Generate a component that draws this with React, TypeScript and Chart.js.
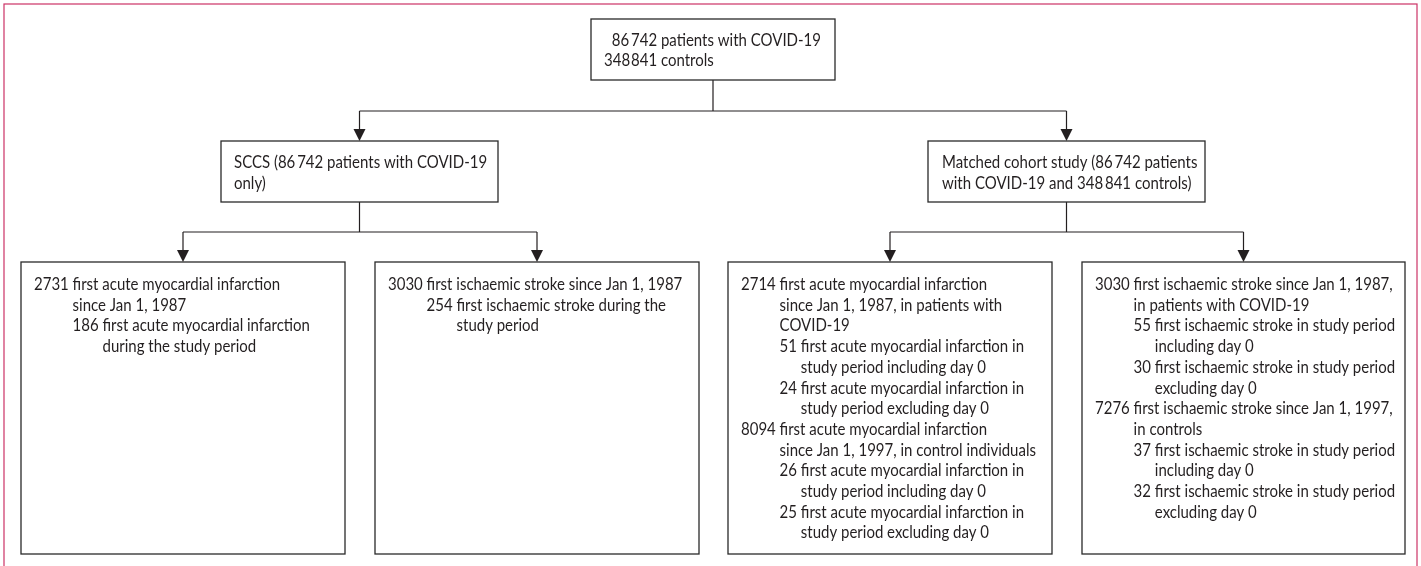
import React, { useEffect, useRef } from "react";
import { Chart, registerables } from "chart.js";

Chart.register(...registerables);

// ---------- content (text of the flow chart) ----------
const TOP_NUMBERS = ["86\u2009742", "348\u200a841"];
const TOP_TEXTS = ["patients with COVID-19", "controls"];
const SCCS_LINES = ["SCCS (86\u2009742 patients with COVID-19", "only)"];
const MATCHED_LINES = ["Matched cohort study (86\u2009742 patients", "with COVID-19 and 348\u2009841 controls)"];

type Entry = { level: number; num: string; lines: string[] };

const SCCS_MI: Entry[] = [
  { level: 0, num: "2731", lines: ["first acute myocardial infarction", "since Jan 1, 1987"] },
  { level: 1, num: "186", lines: ["first acute myocardial infarction", "during the study period"] },
];
const SCCS_STROKE: Entry[] = [
  { level: 0, num: "3030", lines: ["first ischaemic stroke since Jan 1, 1987"] },
  { level: 1, num: "254", lines: ["first ischaemic stroke during the", "study period"] },
];
const COHORT_MI: Entry[] = [
  { level: 0, num: "2714", lines: ["first acute myocardial infarction", "since Jan 1, 1987, in patients with", "COVID-19"] },
  { level: 1, num: "51", lines: ["first acute myocardial infarction in", "study period including day 0"] },
  { level: 1, num: "24", lines: ["first acute myocardial infarction in", "study period excluding day 0"] },
  { level: 0, num: "8094", lines: ["first acute myocardial infarction", "since Jan 1, 1997, in control individuals"] },
  { level: 1, num: "26", lines: ["first acute myocardial infarction in", "study period including day 0"] },
  { level: 1, num: "25", lines: ["first acute myocardial infarction in", "study period excluding day 0"] },
];
const COHORT_STROKE: Entry[] = [
  { level: 0, num: "3030", lines: ["first ischaemic stroke since Jan 1, 1987,", "in patients with COVID-19"] },
  { level: 1, num: "55", lines: ["first ischaemic stroke in study period", "including day 0"] },
  { level: 1, num: "30", lines: ["first ischaemic stroke in study period", "excluding day 0"] },
  { level: 0, num: "7276", lines: ["first ischaemic stroke since Jan 1, 1997,", "in controls"] },
  { level: 1, num: "37", lines: ["first ischaemic stroke in study period", "including day 0"] },
  { level: 1, num: "32", lines: ["first ischaemic stroke in study period", "excluding day 0"] },
];

// ---------- layout (positions / sizes, in scale units) ----------
const W = 1421;
const H = 566;
const BOXES: Record<string, { x: number; y: number; w: number; h: number }> = {
  top: { x: 591, y: 19, w: 244, h: 61 },
  sccs: { x: 221, y: 141, w: 277, h: 61 },
  matched: { x: 928, y: 141, w: 277, h: 61 },
  a: { x: 21, y: 262, w: 324, h: 292 },
  b: { x: 375, y: 262, w: 324, h: 292 },
  c: { x: 728, y: 262, w: 324, h: 292 },
  d: { x: 1082, y: 262, w: 323, h: 292 },
};
const TREE = [
  { parent: "top", children: ["sccs", "matched"], midY: 111 },
  { parent: "sccs", children: ["a", "b"], midY: 232 },
  { parent: "matched", children: ["c", "d"], midY: 232 },
];
const FONT_SIZE = 17;
const FONT_FAMILY = 'Lato, "Liberation Sans", Arial, sans-serif';
const CALIB_TEXT = "2731 first acute myocardial infarction";
const CALIB_WIDTH = 246;
const LINE_H = 20.7;
const INK = "#231f20";
const FRAME = "#cc3366";

const cx = (k: string) => BOXES[k].x + BOXES[k].w / 2;

function connectorPaths() {
  const paths: { x: number; y: number }[][] = [];
  TREE.forEach((t) => {
    const p = BOXES[t.parent];
    paths.push([{ x: cx(t.parent), y: p.y + p.h }, { x: cx(t.parent), y: t.midY }]);
    const xs = t.children.map(cx);
    paths.push([{ x: Math.min(...xs), y: t.midY }, { x: Math.max(...xs), y: t.midY }]);
    t.children.forEach((c) => {
      paths.push([{ x: cx(c), y: t.midY }, { x: cx(c), y: BOXES[c].y - 11 }]);
    });
  });
  return paths;
}

const flowPlugin = {
  id: "flow",
  afterDatasetsDraw(chart: any) {
    const ctx: CanvasRenderingContext2D = chart.ctx;
    const sxs = chart.scales.x;
    const sys = chart.scales.y;
    const X = (v: number) => sxs.getPixelForValue(v);
    const Y = (v: number) => sys.getPixelForValue(v);
    ctx.save();

    // frame
    ctx.strokeStyle = FRAME;
    ctx.lineWidth = 1.2;
    ctx.strokeRect(X(4), Y(4), X(1417) - X(4), Y(H + 10) - Y(4));

    // arrowheads
    ctx.fillStyle = INK;
    TREE.forEach((t) =>
      t.children.forEach((c) => {
        const tipX = X(cx(c));
        const tipY = Y(BOXES[c].y);
        ctx.beginPath();
        ctx.moveTo(tipX, tipY);
        ctx.lineTo(tipX - 6, Y(BOXES[c].y - 12));
        ctx.lineTo(tipX + 6, Y(BOXES[c].y - 12));
        ctx.closePath();
        ctx.fill();
      })
    );

    // boxes
    ctx.strokeStyle = "#2a2a2a";
    ctx.lineWidth = 1.3;
    Object.keys(BOXES).forEach((k) => {
      const b = BOXES[k];
      ctx.strokeRect(X(b.x), Y(b.y), X(b.x + b.w) - X(b.x), Y(b.y + b.h) - Y(b.y));
    });

    // text
    ctx.font = `${FONT_SIZE}px ${FONT_FAMILY}`;
    ctx.textBaseline = "alphabetic";
    ctx.textAlign = "left";
    ctx.fillStyle = INK;
    const sx = CALIB_WIDTH / ctx.measureText(CALIB_TEXT).width;
    const w = (s: string) => ctx.measureText(s).width * sx;
    const put = (s: string, px: number, py: number) => {
      ctx.save();
      ctx.translate(px, py);
      ctx.scale(sx, 1);
      ctx.fillText(s, 0, 0);
      ctx.restore();
    };

    // top box: numbers right-aligned
    {
      const b = BOXES.top;
      const x0 = X(b.x + 13);
      const numW = Math.max(...TOP_NUMBERS.map(w));
      TOP_NUMBERS.forEach((n, i) => {
        const y = Y(b.y + 26.5 + i * LINE_H);
        put(n, x0 + numW - w(n), y);
        put(TOP_TEXTS[i], x0 + numW + w(" "), y);
      });
    }
    const simple = (k: string, lines: string[], dx: number) => {
      const b = BOXES[k];
      lines.forEach((l, i) => put(l, X(b.x + dx), Y(b.y + 27 + i * LINE_H)));
    };
    simple("sccs", SCCS_LINES, 13);
    simple("matched", MATCHED_LINES, 14);

    const entries = (k: string, list: Entry[]) => {
      const b = BOXES[k];
      const x0 = X(b.x + 13);
      let cont0 = x0;
      let row = 0;
      list.forEach((e) => {
        const nx = e.level === 0 ? x0 : cont0;
        const tx = nx + w(e.num + " ");
        if (e.level === 0) cont0 = tx;
        e.lines.forEach((l, i) => {
          const y = Y(b.y + 28 + row * LINE_H);
          if (i === 0) put(e.num, nx, y);
          put(l, tx, y);
          row++;
        });
      });
    };
    entries("a", SCCS_MI);
    entries("b", SCCS_STROKE);
    entries("c", COHORT_MI);
    entries("d", COHORT_STROKE);

    ctx.restore();
  },
};

export default function App() {
  const ref = useRef<HTMLCanvasElement | null>(null);
  useEffect(() => {
    if (!ref.current) return;
    const datasets = connectorPaths().map((p) => ({
      data: p,
      showLine: true,
      borderColor: INK,
      borderWidth: 1.2,
      pointRadius: 0,
      fill: false,
    }));
    const chart = new Chart(ref.current, {
      type: "scatter",
      data: { datasets },
      options: {
        animation: false,
        responsive: true,
        maintainAspectRatio: false,
        layout: { padding: 0 },
        plugins: { legend: { display: false }, tooltip: { enabled: false } },
        scales: {
          x: { type: "linear", min: 0, max: W, display: false },
          y: { type: "linear", min: 0, max: H, reverse: true, display: false },
        },
      },
      plugins: [flowPlugin as any],
    });
    return () => chart.destroy();
  }, []);
  return (
    <div style={{ position: "fixed", left: 0, top: 0, width: W, height: H, background: "#fff" }}>
      <canvas ref={ref} />
    </div>
  );
}
